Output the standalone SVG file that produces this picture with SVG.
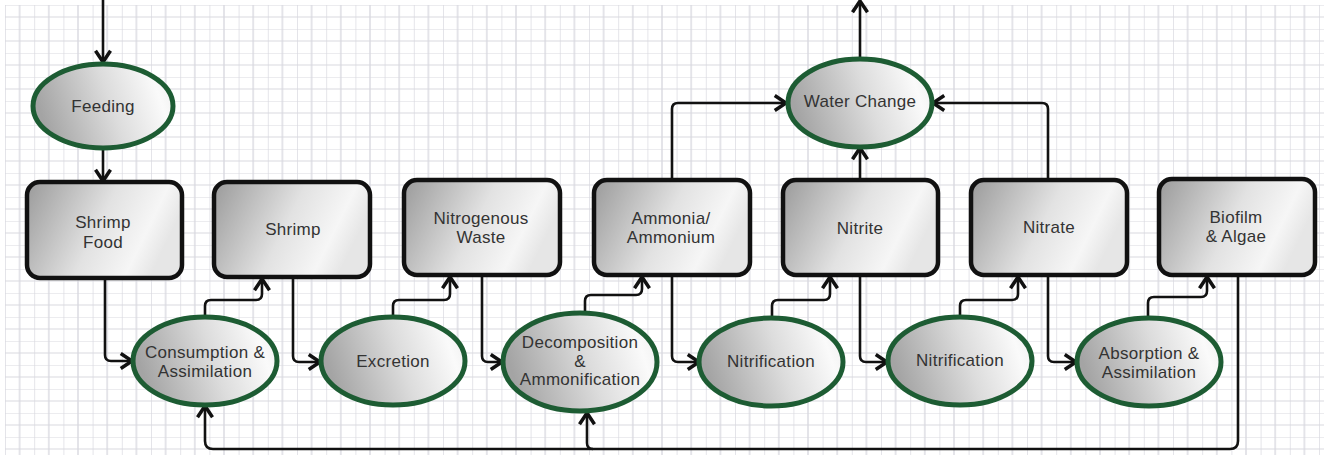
<svg xmlns="http://www.w3.org/2000/svg" width="1324" height="462" viewBox="0 0 1324 462">
<defs>
<pattern id="grid" x="5" y="5" width="29.2" height="24" patternUnits="userSpaceOnUse">
<rect width="29.2" height="24" fill="#ffffff"/>
<path d="M0,0 V24 M14.6,0 V24" stroke="#d4d4dc" stroke-width="1.2"/>
<path d="M0,0 H29.2 M0,12 H29.2" stroke="#d9d9e0" stroke-width="1.2"/>
</pattern>
<linearGradient id="boxg" x1="0" y1="0" x2="1" y2="0.3">
<stop offset="0" stop-color="#9a9a9a"/>
<stop offset="0.55" stop-color="#e2e2e2"/>
<stop offset="0.85" stop-color="#f6f6f6"/>
<stop offset="1" stop-color="#e6e6e6"/>
</linearGradient>
<linearGradient id="ellg" x1="0" y1="0.3" x2="1" y2="0.1">
<stop offset="0" stop-color="#a4a4a4"/>
<stop offset="0.5" stop-color="#dcdcdc"/>
<stop offset="0.85" stop-color="#fafafa"/>
<stop offset="1" stop-color="#eeeeee"/>
</linearGradient>
<marker id="arr" markerUnits="userSpaceOnUse" markerWidth="20" markerHeight="20" viewBox="-12 -8 16 16" refX="0" refY="0" orient="auto">
<path d="M-9,-6 L0,0 L-9,6" fill="none" stroke="#111" stroke-width="2.8" stroke-linejoin="miter"/>
</marker>
<style>
.box{fill:url(#boxg);stroke:#111;stroke-width:4.5}
.ell{fill:url(#ellg);stroke:#1d5c33;stroke-width:5}
.lbl{font-family:"Liberation Sans",Arial,sans-serif;font-size:17px;letter-spacing:0.3px;fill:#333;text-anchor:middle}
.con path{fill:none;stroke:#111;stroke-width:2.6;marker-end:url(#arr)}
</style>
</defs>
<rect x="0" y="0" width="1324" height="462" fill="#ffffff"/>
<rect x="5" y="5" width="1319" height="450" fill="url(#grid)"/>

<g id="connectors" class="con">
<path d="M103,0 V62"/>
<path d="M103,148 V181"/>
<path d="M105,278 V355 Q105,361 111,361 H132"/>
<path d="M205,317 V306 Q205,300 211,300 H256 Q262,300 262,294 V279"/>
<path d="M293,277 V356 Q293,362 299,362 H320"/>
<path d="M393,318 V306 Q393,300 399,300 H444 Q450,300 450,294 V277"/>
<path d="M482,275 V356 Q482,362 488,362 H502"/>
<path d="M585,312 V301 Q585,295 591,295 H636 Q642,295 642,289 V277"/>
<path d="M672,180 V109 Q672,103 678,103 H786"/>
<path d="M672,275 V356 Q672,362 678,362 H699"/>
<path d="M772,318 V306 Q772,300 778,300 H824 Q830,300 830,294 V277"/>
<path d="M860,180 V148"/>
<path d="M860,59 V1"/>
<path d="M860,275 V356 Q860,362 866,362 H887"/>
<path d="M960,317 V306 Q960,300 966,300 H1012 Q1018,300 1018,294 V277"/>
<path d="M1048,180 V109 Q1048,103 1042,103 H933"/>
<path d="M1048,275 V356 Q1048,362 1054,362 H1076"/>
<path d="M1148,318 V303 Q1148,297 1154,297 H1201 Q1207,297 1207,291 V277"/>
<path d="M1238,275 V441 Q1238,449 1230,449 H213 Q205,449 205,441 V406"/>
<path d="M593,449 Q587,449 587,443 V413"/>
</g>

<g id="feeding"><ellipse class="ell" cx="103" cy="106" rx="70" ry="42"/><text class="lbl" x="103" y="112">Feeding</text></g>
<g id="water-change"><ellipse class="ell" cx="860" cy="103" rx="72" ry="44"/><text class="lbl" x="860" y="107">Water Change</text></g>

<g id="shrimp-food"><rect class="box" x="27" y="182" width="155" height="96" rx="13"/><text class="lbl" x="103" y="228">Shrimp</text><text class="lbl" x="103" y="248">Food</text></g>
<g id="shrimp"><rect class="box" x="214" y="182" width="156" height="95" rx="13"/><text class="lbl" x="293" y="235">Shrimp</text></g>
<g id="nitrogenous-waste"><rect class="box" x="404" y="180" width="156" height="95" rx="13"/><text class="lbl" x="481" y="224">Nitrogenous</text><text class="lbl" x="481" y="243">Waste</text></g>
<g id="ammonia"><rect class="box" x="594" y="180" width="156" height="95" rx="13"/><text class="lbl" x="671" y="224">Ammonia/</text><text class="lbl" x="671" y="243">Ammonium</text></g>
<g id="nitrite"><rect class="box" x="783" y="180" width="155" height="95" rx="13"/><text class="lbl" x="860" y="234">Nitrite</text></g>
<g id="nitrate"><rect class="box" x="971" y="180" width="156" height="95" rx="13"/><text class="lbl" x="1049" y="233">Nitrate</text></g>
<g id="biofilm"><rect class="box" x="1159" y="179" width="156" height="96" rx="13"/><text class="lbl" x="1236" y="223">Biofilm</text><text class="lbl" x="1236" y="242">&amp; Algae</text></g>

<g id="consumption"><ellipse class="ell" cx="205" cy="361" rx="72" ry="44"/><text class="lbl" x="205" y="358">Consumption &amp;</text><text class="lbl" x="205" y="377">Assimilation</text></g>
<g id="excretion"><ellipse class="ell" cx="393" cy="361" rx="72" ry="44"/><text class="lbl" x="393" y="367">Excretion</text></g>
<g id="decomposition"><ellipse class="ell" cx="580" cy="362" rx="77" ry="49" stroke-width="6"/><text class="lbl" x="580" y="348">Decomposition</text><text class="lbl" x="580" y="367">&amp;</text><text class="lbl" x="580" y="385">Ammonification</text></g>
<g id="nitrification-1"><ellipse class="ell" cx="771" cy="362" rx="72" ry="44"/><text class="lbl" x="771" y="367">Nitrification</text></g>
<g id="nitrification-2"><ellipse class="ell" cx="960" cy="361" rx="72" ry="44"/><text class="lbl" x="960" y="366">Nitrification</text></g>
<g id="absorption"><ellipse class="ell" cx="1149" cy="362" rx="72" ry="44"/><text class="lbl" x="1149" y="359">Absorption &amp;</text><text class="lbl" x="1149" y="378">Assimilation</text></g>
</svg>
